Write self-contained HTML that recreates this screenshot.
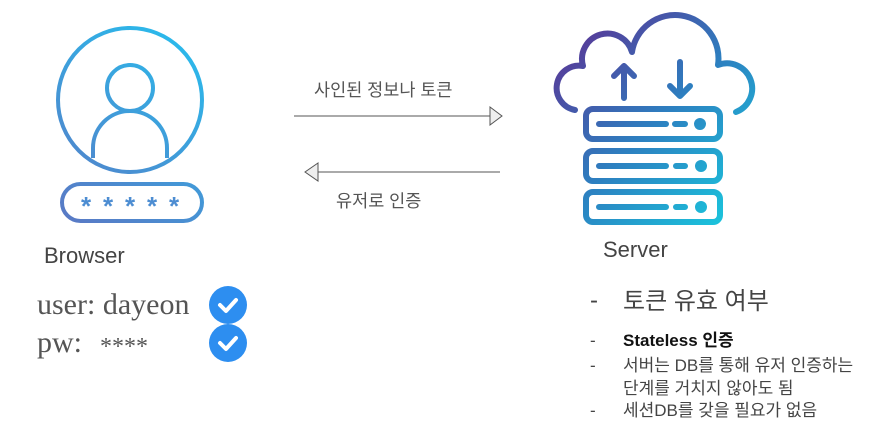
<!DOCTYPE html>
<html><head><meta charset="utf-8"><style>
body{margin:0;background:#fff;width:890px;height:442px;overflow:hidden}
svg{display:block}
.k{font-family:"Liberation Sans","Noto Sans CJK KR",sans-serif}
</style></head><body>
<svg width="890" height="442" viewBox="0 0 890 442" xmlns="http://www.w3.org/2000/svg">
<defs>
<linearGradient id="g1" gradientUnits="userSpaceOnUse" x1="60" y1="222" x2="203" y2="28"><stop offset="0" stop-color="#5a78c4"/><stop offset="1" stop-color="#26c0ef"/></linearGradient>
<linearGradient id="g2" gradientUnits="userSpaceOnUse" x1="555" y1="30" x2="745" y2="225"><stop offset="0" stop-color="#5e2f92"/><stop offset="0.5" stop-color="#2d7fc0"/><stop offset="1" stop-color="#18cde0"/></linearGradient>
</defs>
<g fill="none" stroke="url(#g1)" stroke-width="4">
<circle cx="130" cy="100" r="72"/>
<circle cx="130" cy="88" r="23"/>
<path d="M93 158 V148 A37 37 0 0 1 167 148 V158"/>
<rect x="62" y="184" width="140" height="37" rx="18.5"/>
</g>
<g fill="#4d8dd2" font-family="Liberation Sans,sans-serif" font-size="26" font-weight="bold" text-anchor="middle">
<text x="86" y="215">*</text><text x="108" y="215">*</text><text x="130" y="215">*</text><text x="152" y="215">*</text><text x="174" y="215">*</text>
</g>
<g fill="none" stroke="url(#g2)" stroke-width="6" stroke-linecap="round" stroke-linejoin="round">
<path d="M575 110 A22 22 0 0 1 583 66 A22 22 0 0 1 632 52 A40 40 0 0 1 718 65 A22 22 0 0 1 736 112"/>
<path d="M624 98 V66 M614 76 L624 66 L634 76"/>
<path d="M680 62 V96 M670 86 L680 96 L690 86"/>
<rect x="586" y="109" width="134" height="30" rx="7"/>
<rect x="586" y="151" width="134" height="30" rx="7"/>
<rect x="586" y="192" width="134" height="30" rx="7"/>
<path d="M599 124 H666 M675 124 H685 M599 166 H666 M676 166 H685 M599 207 H666 M676 207 H685"/>
</g>
<g fill="url(#g2)"><circle cx="700" cy="124" r="6"/><circle cx="701" cy="166" r="6"/><circle cx="701" cy="207" r="6"/></g>
<line x1="294" y1="116" x2="490" y2="116" stroke="#555" stroke-width="1"/>
<path d="M490 107 L502 116 L490 125 Z" fill="#eee" stroke="#555"/>
<line x1="318" y1="172" x2="500" y2="172" stroke="#555" stroke-width="1"/>
<path d="M318 163 L305 172 L318 181 Z" fill="#eee" stroke="#555"/>
<text class="k" x="314" y="96" font-size="17.5" fill="#555">사인된 정보나 토큰</text>
<text class="k" x="336" y="207" font-size="17.5" fill="#555">유저로 인증</text>
<text class="k" x="44" y="263" font-size="22" fill="#444">Browser</text>
<text class="k" x="603" y="257" font-size="22" fill="#444">Server</text>
<text x="37" y="314" font-family="Liberation Serif,serif" font-size="30" fill="#555">user: dayeon</text>
<text x="37" y="352" font-family="Liberation Serif,serif" font-size="30" fill="#555">pw:</text>
<text x="100" y="354" font-family="Liberation Serif,serif" font-size="24" fill="#555">****</text>
<g fill="#2d8ef0"><circle cx="228" cy="305" r="19"/><circle cx="228" cy="343" r="19"/></g>
<g fill="none" stroke="#fff" stroke-width="4" stroke-linecap="round" stroke-linejoin="round">
<path d="M220 305 L226 311 L236 300"/><path d="M220 343 L226 349 L236 338"/>
</g>
<g class="k" fill="#444">
<text x="590" y="308" font-size="24">-</text>
<text x="623" y="309" font-size="24">토큰 유효 여부</text>
<text x="590" y="346" font-size="17">-</text>
<text x="623" y="346" font-size="17" font-weight="bold" fill="#111">Stateless 인증</text>
<text x="590" y="371" font-size="17">-</text>
<text x="623" y="371" font-size="17">서버는 DB를 통해 유저 인증하는</text>
<text x="623" y="394" font-size="17">단계를 거치지 않아도 됨</text>
<text x="590" y="416" font-size="17">-</text>
<text x="623" y="416" font-size="17">세션DB를 갖을 필요가 없음</text>
</g>
</svg>
</body></html>
